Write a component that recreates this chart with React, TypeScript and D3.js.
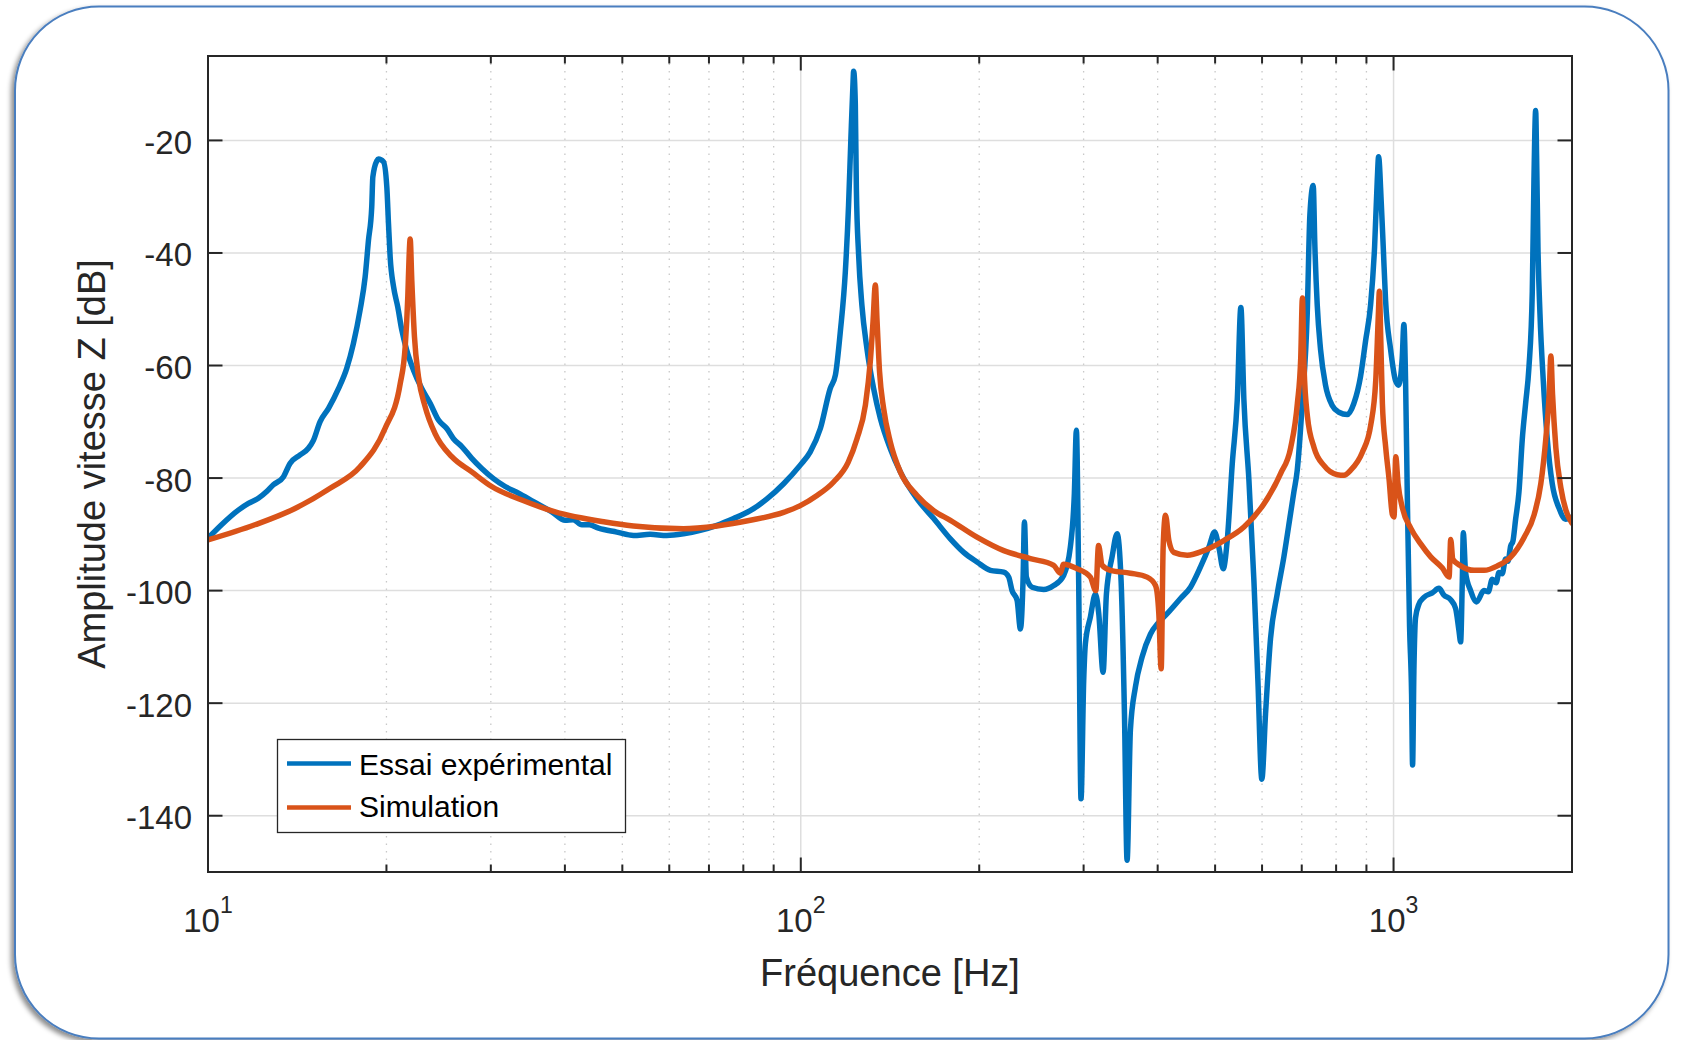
import React from 'react';
import * as d3 from 'd3';

// ---------- data ----------
const expFreq = [
  10.0, 10.54, 11.25, 11.7, 12.16, 12.56, 12.89, 13.4, 13.75, 14.3, 14.77, 15.06, 15.45, 15.97, 16.6, 17.14,
  17.59, 18.05, 18.41, 18.65, 18.89, 18.97, 19.27, 19.39, 19.77, 20.03, 20.16, 20.29, 20.56, 20.9, 21.23, 21.64,
  22.21, 22.94, 23.7, 24.48, 25.28, 25.95, 26.8, 27.86, 28.96, 30.31, 31.72, 33.41, 35.41, 38.02, 40.04, 41.3,
  42.72, 44.0, 45.59, 48.95, 52.22, 55.72, 59.44, 63.42, 67.68, 72.2, 77.02, 82.17, 87.68, 93.55, 99.8, 103.7,
  107.9, 112.1, 114.4, 116.6, 118.9, 120.4, 121.5, 122.4, 122.8, 123.6, 124.1, 125.2, 126.8, 129.3, 132.7, 136.2,
  141.6, 147.2, 157.1, 167.6, 178.8, 188.3, 198.3, 208.9, 220.0, 224.3, 227.2, 231.7, 234.7, 237.1, 238.4, 240.2,
  245.6, 256.9, 267.1, 277.6, 284.9, 289.4, 291.7, 294.3, 297.0, 300.1, 302.1, 308.0, 314.1, 318.2, 323.6, 327.8,
  335.1, 341.7, 347.0, 351.6, 355.2, 359.8, 366.9, 376.5, 389.0, 401.8, 415.0, 437.1, 454.4, 472.4, 488.0, 498.9,
  507.4, 516.0, 524.1, 534.4, 544.9, 552.6, 559.2, 570.2, 581.3, 590.4, 599.5, 608.2, 620.1, 636.4, 653.1, 670.3,
  678.9, 687.9, 701.4, 715.1, 722.5, 731.9, 736.7, 743.4, 753.0, 767.8, 788.0, 808.7, 835.3, 857.3, 879.8, 897.1,
  914.7, 929.0, 938.7, 943.5, 953.3, 960.7, 969.4, 988.4, 1007.8, 1020, 1034.2, 1040.9, 1047.8, 1054.6, 1064.1, 1072.5,
  1076.7, 1082.2, 1089.2, 1103.6, 1125.2, 1162.3, 1192.7, 1216.2, 1248.1, 1272.7, 1289.2, 1297.6, 1306.0, 1311.1, 1322.9, 1349.0,
  1380.7, 1420.6, 1445, 1467.2, 1490, 1505.8, 1525, 1545.3, 1560, 1575.8, 1590, 1606.7, 1627.6, 1649.0, 1670.4, 1692.1,
  1714.1, 1725.2, 1736.7, 1743.2, 1752.2, 1766.0, 1788.9, 1816.6, 1852.2, 1900.9, 1951.0, 2000,
];
const expDb = [
  -90.7, -88.3, -85.7, -84.5, -83.6, -82.4, -81.2, -79.8, -77.4, -75.9, -74.7, -73.3, -70.0, -67.6, -64.1, -60.5,
  -56.1, -50.2, -44.3, -37.8, -31.8, -26.5, -23.6, -23.3, -23.8, -28.3, -34.8, -40.7, -46.0, -49.6, -53.7, -57.3,
  -60.8, -64.1, -66.7, -69.7, -71.2, -73.0, -74.4, -76.5, -78.3, -80.1, -81.5, -82.7, -84.2, -86.0, -87.5, -87.4,
  -88.3, -88.3, -88.9, -89.6, -90.2, -90.0, -90.2, -89.9, -89.3, -88.4, -87.2, -85.8, -83.7, -81.0, -77.7, -75.4,
  -71.2, -64.1, -61.7, -54.0, -43.3, -31.5, -19.6, -10.7, -7.7, -13.6, -28.5, -40.4, -49.3, -57.0, -64.1, -69.4,
  -74.8, -78.9, -83.7, -87.2, -90.8, -93.2, -94.9, -96.4, -96.7, -97.6, -100.0, -101.7, -106.8, -98.2, -87.8, -97.6,
  -99.4, -99.8, -99.1, -97.3, -92.3, -82.8, -71.5, -98.2, -137.0, -116.0, -109.4, -104.7, -100.6, -104.1, -114.5, -100.6,
  -94.0, -89.9, -98.2, -121.9, -147.9, -124.8, -117.1, -111.8, -107.7, -105.6, -104.1, -101.4, -99.4, -95.8, -92.3, -89.6,
  -92.3, -96.1, -91.1, -77.5, -66.2, -49.7, -66.2, -80.4, -98.2, -116.0, -133.5, -121.9, -108.5, -100.6, -94.0, -86.3,
  -82.5, -78.6, -66.7, -50.8, -33.3, -28.0, -38.9, -49.2, -57.1, -63.5, -67.1, -68.3, -68.7, -66.7, -61.9, -55.6,
  -49.2, -38.9, -27.0, -22.9, -31.0, -38.9, -48.4, -57.1, -62.7, -63.5, -58.7, -52.7, -62.7, -82.5, -106.3, -118.3,
  -131.0, -114.3, -104.8, -102.4, -101.2, -100.4, -99.6, -100.8, -101.6, -103.2, -107.1, -109.1, -98.4, -89.7, -96.8, -100.0,
  -102.0, -100.0, -100.2, -98.0, -98.6, -96.8, -97.0, -94.4, -94.8, -92.1, -91.2, -87.3, -82.5, -73.0, -66.7, -60.3,
  -46.8, -27.0, -14.7, -23.0, -38.9, -50.8, -62.7, -73.0, -81.0, -85.3, -87.3, -86.9,
];

const simFreq = [
  10.0, 12.0, 14.02, 16.07, 18.05, 19.89, 21.1, 21.51, 21.73, 21.84, 21.93, 22.07, 22.3, 22.65, 23.24, 24.16,
  25.78, 27.86, 30.1, 33.84, 38.52, 46.77, 52.2, 63.4, 72.2, 82.2, 93.55, 99.8, 106.5, 113.6, 120.2, 124.4,
  128.5, 131.0, 132.4, 133.6, 134.5, 135.8, 138.0, 141.6, 147.2, 157.1, 167.6, 178.8, 198.3, 220.0, 243.9, 267.1,
  274.1, 277.6, 292.5, 308.0, 314.6, 317.9, 322.4, 333.0, 359.8, 384.0, 396.7, 401.8, 405.5, 408.6, 412.4, 417.8,
  425.9, 448.6, 478.6, 517.2, 559.2, 604.2, 644.8, 670.6, 688.3, 697.3, 701.8, 706.3, 715.6, 734.4, 763.5, 803.9,
  825, 846.6, 885.9, 915.1, 933.1, 942.8, 946.5, 951.3, 957.5, 970.1, 982.7, 995.5, 1001.9, 1008.5, 1017.7, 1034.9,
  1069.0, 1111.2, 1155.3, 1208.9, 1240.7, 1248.7, 1258.5, 1298.3, 1367.5, 1421.4, 1497.1, 1576.8, 1661.1, 1726.7, 1771.9, 1806.6,
  1830.5, 1842.4, 1854.3, 1878.4, 1915.1, 1952.8, 2000,
];
const simDb = [
  -91.0, -88.3, -85.4, -81.8, -78.0, -71.2, -63.2, -56.7, -47.8, -40.7, -37.5, -44.9, -54.9, -62.0, -67.3, -72.1,
  -76.2, -78.9, -81.5, -83.9, -86.0, -87.8, -88.5, -89.0, -88.5, -87.5, -86.1, -84.9, -83.1, -80.7, -77.2, -73.0,
  -67.1, -59.3, -52.2, -45.7, -52.2, -61.1, -67.7, -73.6, -78.9, -83.1, -85.8, -87.5, -90.5, -92.9, -94.3, -95.5,
  -96.9, -95.3, -96.1, -97.6, -100.0, -92.0, -95.5, -96.4, -96.9, -97.6, -99.1, -104.1, -113.9, -92.3, -86.6, -91.1,
  -93.2, -93.7, -92.9, -91.1, -88.7, -84.6, -79.2, -74.6, -66.7, -58.7, -48.0, -60.3, -69.0, -74.6, -77.8, -79.4,
  -79.5, -78.6, -75.4, -70.6, -62.7, -50.8, -46.8, -54.8, -66.7, -74.6, -80.2, -86.5, -86.9, -76.2, -81.0, -85.3,
  -88.9, -91.7, -94.0, -96.0, -97.6, -90.9, -94.4, -95.6, -96.4, -96.4, -95.6, -94.0, -90.5, -86.5, -81.0, -73.0,
  -65.1, -58.3, -65.1, -74.6, -81.7, -85.7, -88.0,
];

const yTicks = [-140, -120, -100, -80, -60, -40, -20];
const xDecades = [10, 100, 1000];
const xDecadeExp = ['1', '2', '3'];
const xMinor = [20, 30, 40, 50, 60, 70, 80, 90, 200, 300, 400, 500, 600, 700, 800, 900];
const xDomain: [number, number] = [10, 2000];
const yDomain: [number, number] = [-150, -5];
const seriesNames = ['Essai expérimental', 'Simulation'];
const seriesColors = ['#0072BD', '#D95319'];
const xLabel = 'Fréquence [Hz]';
const yLabel = 'Amplitude vitesse Z [dB]';

// ---------- layout ----------
const W = 1681;
const H = 1040;
const L = 208, R = 1572, T = 56, B = 872;
const FONT = "'Liberation Sans', Arial, Helvetica, sans-serif";
const AX = '#262626';

export default function App() {
  const x = d3.scaleLog().domain(xDomain).range([L, R]);
  const y = d3.scaleLinear().domain(yDomain).range([B, T]);

  const line = d3
    .line<[number, number]>()
    .x((d) => x(d[0]))
    .y((d) => y(d[1]))
    .curve(d3.curveMonotoneX);

  const expData = expFreq.map((f, i) => [f, expDb[i]] as [number, number]);
  const simData = simFreq.map((f, i) => [f, simDb[i]] as [number, number]);

  const majLen = 14.5;
  const minLen = 7.5;

  return (
    <svg
      width={W}
      height={H}
      viewBox={`0 0 ${W} ${H}`}
      style={{ position: 'absolute', left: 0, top: 0, display: 'block' }}
      fontFamily={FONT}
    >
      <defs>
        <filter id="shadow" x="-5%" y="-5%" width="110%" height="110%">
          <feGaussianBlur in="SourceAlpha" stdDeviation="2.5" />
          <feOffset dx="-3" dy="3" result="ob" />
          <feFlood floodColor="#000" floodOpacity="0.45" />
          <feComposite in2="ob" operator="in" />
          <feMerge>
            <feMergeNode />
            <feMergeNode in="SourceGraphic" />
          </feMerge>
        </filter>
        <clipPath id="plotclip">
          <rect x={L} y={T} width={R - L} height={B - T} />
        </clipPath>
      </defs>

      <rect x={0} y={0} width={W} height={H} fill="#fff" />
      <rect
        x={15}
        y={6.5}
        width={1653.5}
        height={1032}
        rx={84}
        ry={84}
        fill="#fff"
        stroke="#4a7ebf"
        strokeWidth={2}
        filter="url(#shadow)"
      />

      <rect x={L} y={T} width={R - L} height={B - T} fill="#fff" />

      {/* minor grid */}
      {xMinor.map((v) => (
        <line
          key={'mg' + v}
          x1={x(v)}
          x2={x(v)}
          y1={T}
          y2={B}
          stroke="#c8c8c8"
          strokeWidth={1.3}
          strokeDasharray="1.5 6"
        />
      ))}
      {/* major grid */}
      {yTicks.map((v) => (
        <line key={'gy' + v} x1={L} x2={R} y1={y(v)} y2={y(v)} stroke="#dedede" strokeWidth={1.5} />
      ))}
      {xDecades.map((v) => (
        <line key={'gx' + v} x1={x(v)} x2={x(v)} y1={T} y2={B} stroke="#dedede" strokeWidth={1.5} />
      ))}

      {/* curves */}
      <g clipPath="url(#plotclip)" fill="none" strokeLinejoin="round" strokeLinecap="round">
        <path d={line(expData) || ''} stroke={seriesColors[0]} strokeWidth={5.5} />
        <path d={line(simData) || ''} stroke={seriesColors[1]} strokeWidth={5.5} />
      </g>

      {/* ticks */}
      <g stroke={AX} strokeWidth={2}>
        {yTicks.map((v) => (
          <g key={'ty' + v}>
            <line x1={L} x2={L + majLen} y1={y(v)} y2={y(v)} />
            <line x1={R} x2={R - majLen} y1={y(v)} y2={y(v)} />
          </g>
        ))}
        {xDecades.map((v) => (
          <g key={'tx' + v}>
            <line x1={x(v)} x2={x(v)} y1={B} y2={B - majLen} />
            <line x1={x(v)} x2={x(v)} y1={T} y2={T + majLen} />
          </g>
        ))}
        {xMinor.map((v) => (
          <g key={'tm' + v}>
            <line x1={x(v)} x2={x(v)} y1={B} y2={B - minLen} />
            <line x1={x(v)} x2={x(v)} y1={T} y2={T + minLen} />
          </g>
        ))}
      </g>

      <rect x={L} y={T} width={R - L} height={B - T} fill="none" stroke={AX} strokeWidth={2} />

      {yTicks.map((v) => (
        <text key={'ly' + v} x={192} y={y(v) + 13.5} textAnchor="end" fontSize={33} fill={AX}>
          {String(v)}
        </text>
      ))}
      {xDecades.map((v, i) => (
        <text key={'lx' + v} x={x(v)} y={931.5} textAnchor="middle" fontSize={33} fill={AX}>
          10
          <tspan fontSize={23} dy={-19}>
            {xDecadeExp[i]}
          </tspan>
        </text>
      ))}

      <text x={(L + R) / 2} y={986} textAnchor="middle" fontSize={38} fill={AX}>
        {xLabel}
      </text>
      <text
        transform={`translate(105, ${(T + B) / 2}) rotate(-90)`}
        textAnchor="middle"
        fontSize={38}
        fill={AX}
      >
        {yLabel}
      </text>

      <g>
        <rect x={277.5} y={739.5} width={348} height={93} fill="#fff" stroke={AX} strokeWidth={1.3} />
        {seriesNames.map((name, i) => (
          <g key={name}>
            <line
              x1={287}
              x2={351}
              y1={763.5 + i * 44}
              y2={763.5 + i * 44}
              stroke={seriesColors[i]}
              strokeWidth={4.5}
            />
            <text x={359} y={775 + i * 42} fontSize={30} fill="#000">
              {name}
            </text>
          </g>
        ))}
      </g>
    </svg>
  );
}
